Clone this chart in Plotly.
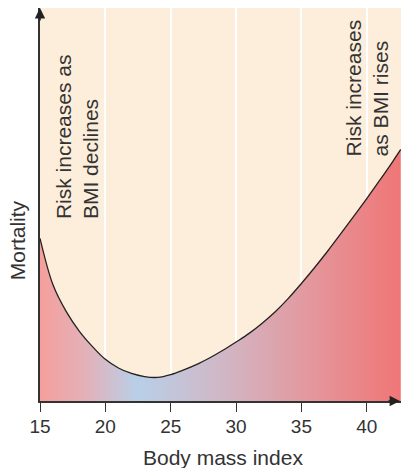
import plotly.graph_objects as go

# Data
bmi = [15, 16, 17, 18, 19, 20, 21, 22, 23, 24, 25, 26, 27, 28, 29, 30,
       31, 32, 33, 34, 35, 36, 37, 38, 39, 40, 41, 42, 42.6]
mortality = [41.4, 29.5, 22.8, 17.8, 13.9, 10.6, 8.4, 7.0, 6.2, 6.0, 6.7, 7.9,
             9.3, 11.0, 12.9, 15.0, 17.2, 19.8, 22.7, 26.1, 29.9, 33.9, 38.1, 42.5,
             47.0, 51.5, 56.2, 61.0, 64.0]
tick_vals = [15, 20, 25, 30, 35, 40]
tick_text = ["15", "20", "25", "30", "35", "40"]
x_title = "Body mass index"
y_title = "Mortality"
note_left = "Risk increases as<br>BMI declines"
note_right = "Risk increases<br>as BMI rises"

FONT = "Liberation Sans, Arial, Helvetica, sans-serif"
TXT = "#333333"

fig = go.Figure()
fig.add_trace(go.Scatter(
    x=bmi, y=mortality, mode="lines",
    line=dict(color="#222222", width=1.3, shape="spline", smoothing=1.0),
    fill="tozeroy",
    fillgradient=dict(
        type="horizontal", start=15, stop=42.6,
        colorscale=[[0.0, "#f59f9b"], [0.13, "#e2b2ba"], [0.27, "#b8cfe8"],
                    [0.5, "#d0b8c6"], [0.75, "#e4979d"], [1.0, "#f07676"]],
    ),
    hoverinfo="skip", showlegend=False,
))

fig.update_layout(
    width=401, height=468,
    margin=dict(l=40, r=0, t=8, b=67, autoexpand=False),
    paper_bgcolor="white", plot_bgcolor="#fdeedb",
    font=dict(family=FONT, color=TXT),
    xaxis=dict(range=[15, 42.62], tickvals=tick_vals, ticktext=tick_text,
               showgrid=True, gridcolor="white", gridwidth=1.5,
               zeroline=False, showline=True, linecolor="#333333", linewidth=1.5,
               ticks="outside", ticklen=9, tickcolor="#333333", tickwidth=1.3,
               tickfont=dict(size=19, color=TXT), ticklabelstandoff=-2),
    yaxis=dict(range=[0, 100], showgrid=False, zeroline=False, showticklabels=False,
               showline=True, linecolor="#333333", linewidth=2, ticks=""),
    annotations=[
        dict(text=note_left, x=17.8, y=45.8, xref="x", yref="y", textangle=-90,
             xanchor="center", yanchor="bottom", align="left", showarrow=False,
             font=dict(size=21, color=TXT)),
        dict(text=note_right, x=40.0, y=61.8, xref="x", yref="y", textangle=-90,
             xanchor="center", yanchor="bottom", align="left", showarrow=False,
             font=dict(size=21, color=TXT)),
        dict(text=x_title, x=0.507, y=-0.1426, xref="paper", yref="paper",
             xanchor="center", yanchor="middle", showarrow=False,
             font=dict(size=21, color=TXT)),
        dict(text=y_title, x=-0.0637, y=0.409, xref="paper", yref="paper", textangle=-90,
             xanchor="center", yanchor="middle", showarrow=False,
             font=dict(size=21, color=TXT)),
        # axis arrowheads
        dict(text="", x=15, y=100, xref="x", yref="y", showarrow=True,
             ax=0, ay=14, axref="pixel", ayref="pixel", arrowhead=2, arrowsize=1.3,
             arrowwidth=1.6, arrowcolor="#222222"),
        dict(text="", x=1.0, y=0, xref="paper", yref="paper", showarrow=True,
             ax=-14, ay=0, axref="pixel", ayref="pixel", arrowhead=2, arrowsize=1.3,
             arrowwidth=1.6, arrowcolor="#222222"),
    ],
)

fig.write_html("out.html", config={"displayModeBar": False},
               post_script="document.body.style.margin='0px';document.body.style.overflow='hidden';")
